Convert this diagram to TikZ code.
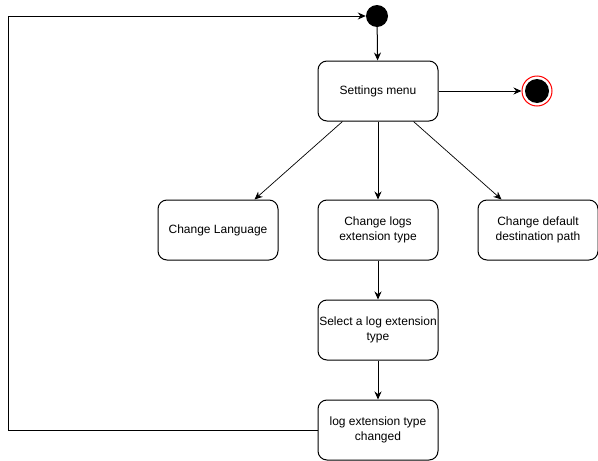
\documentclass[tikz,border=0pt]{standalone}
\usepackage{fontspec}
\setmainfont{Liberation Sans}
\usepackage{xcolor}
\usetikzlibrary{arrows.meta}
\tikzstyle{State}=[rectangle,rounded corners=9pt,draw=black,fill=white,
minimum width=120pt,minimum height=60pt,inner sep=0pt,align=center,
line width=1pt,font=\fontsize{12}{15}\selectfont]
\tikzstyle{Init}=[circle,fill=black,minimum size=22pt,inner sep=0pt]
\tikzstyle{Final}=[circle,draw=red,fill=white,minimum size=30pt,inner sep=0pt,line width=1pt]
\tikzstyle{FinalIn}=[circle,fill=black,minimum size=24pt,inner sep=0pt]
\tikzstyle{Edge}=[draw=black,line width=1pt,-{Stealth[length=8pt,width=7pt]}]
\tikzstyle{ThinEdge}=[draw=black,line width=.7pt,-{Stealth[length=8pt,width=7pt]}]

\begin{document}
\begin{tikzpicture}[x=1pt,y=-1pt]
    \useasboundingbox (0,0) rectangle (598,461);
        \node[Init](start)at(377,16){};
        \node[State](settings)at(378,91){Settings menu};
        \node[Final](final)at(537,91){};
        \node[FinalIn](finalin)at(537,91){};
        \node[State](lang)at(218,230){Change Language};
        \node[State](ext)at(378,230){Change logs\\extension type};
        \node[State](dest)at(538,230){Change default\\destination path};
        \node[State](select)at(378,330){Select a log extension\\type};
        \node[State](changed)at(378,430){log extension type\\changed};
        \coordinate(corner)at(8,16);
        \draw[Edge](start)--(settings);
        \draw[Edge](settings)--(final);
        \draw[ThinEdge]([xshift=25pt]settings.south west)--([xshift=-24pt]lang.north east);
        \draw[Edge](settings)--(ext);
        \draw[ThinEdge]([xshift=-25pt]settings.south east)--([xshift=24pt]dest.north west);
        \draw[Edge](ext)--(select);
        \draw[Edge](select)--(changed);
        \draw[Edge](changed.west)-|(corner)--(start);
    \end{tikzpicture}
\end{document}
